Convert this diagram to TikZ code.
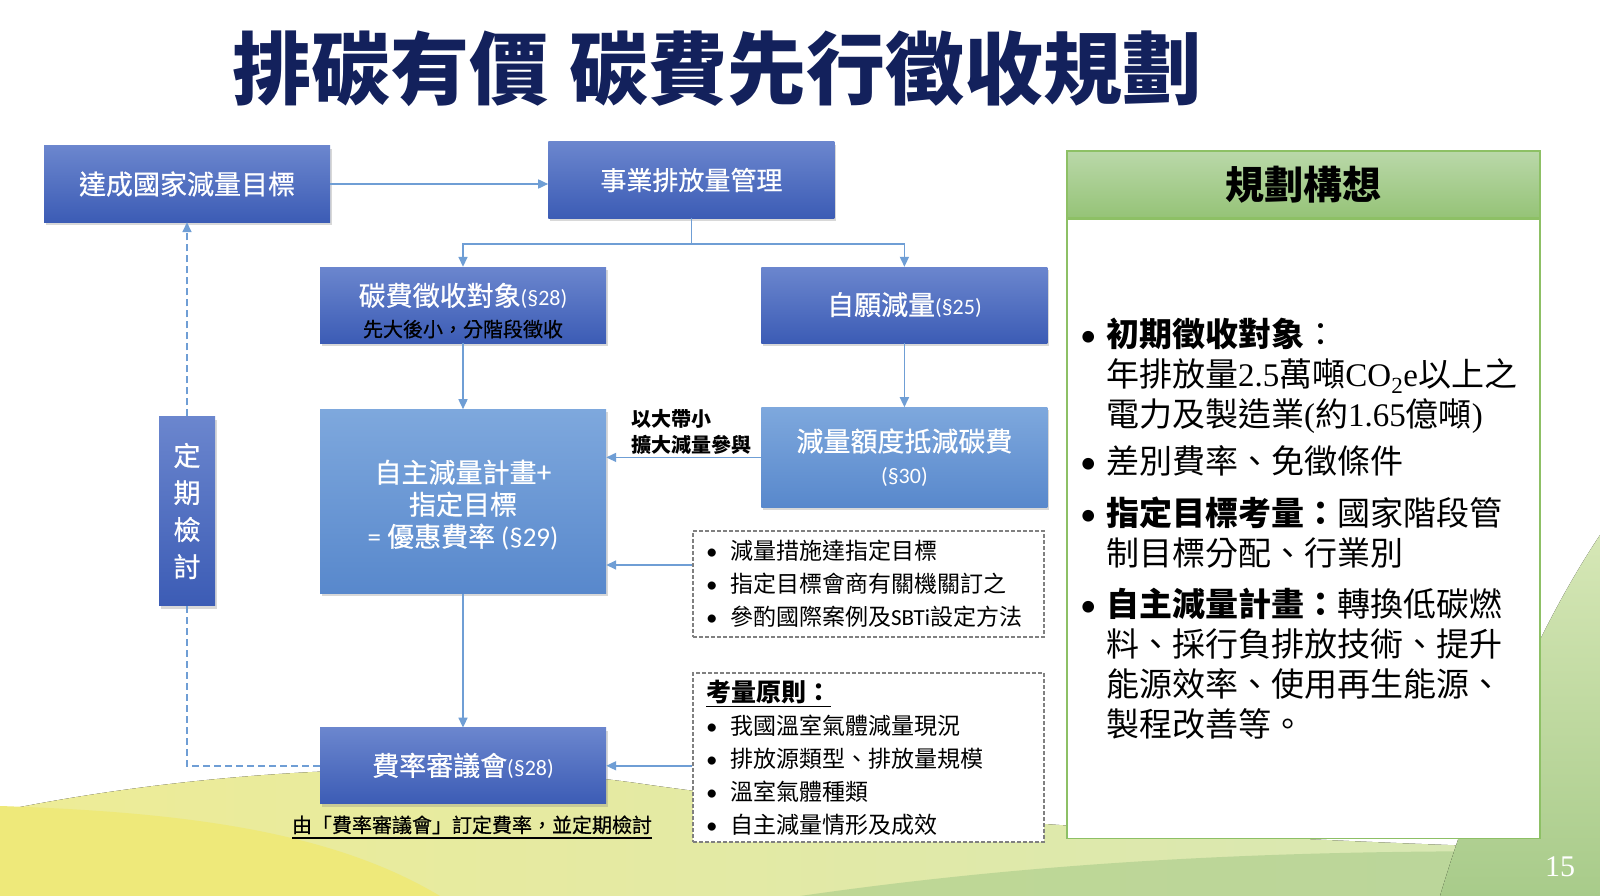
\documentclass[tikz,border=0pt]{standalone}
\usepackage{fontspec}
\setmainfont{Noto Sans CJK TC}
\newfontfamily\boxfont{Noto Sans CJK TC}[FakeBold=0.6]
\newfontfamily\timesfont{Liberation Serif}
\newfontfamily\calfont{Carlito}
\usetikzlibrary{positioning, arrows.meta, shadows}

% colours picked from the slide
\definecolor{titleblue}{HTML}{13215C}
\definecolor{boxtop}{HTML}{6B86CE}
\definecolor{boxbot}{HTML}{3C5CB5}
\definecolor{lighttop}{HTML}{7EA8DD}
\definecolor{lightbot}{HTML}{5888CC}
\definecolor{linkblue}{HTML}{6F9ED5}
\definecolor{panelgreen}{HTML}{8DC065}
\definecolor{headtop}{HTML}{BAD8A9}
\definecolor{headbot}{HTML}{95C377}
\definecolor{bgyellow}{HTML}{EEEC96}
\definecolor{bgbright}{HTML}{EEE97A}
\definecolor{bgpale}{HTML}{D6E7B6}
\definecolor{bggreen}{HTML}{A8CB8A}

\newcommand{\sz}[2]{\fontsize{#1}{#2}\selectfont}
\newcommand{\blt}[1][24pt]{\makebox[#1][l]{\calfont •}}
\newcommand{\sect}[1]{{\calfont\sz{22}{24}(§#1)}}
\newcommand{\undl}[1]{\setbox0\hbox{#1}\rlap{\rule[-6pt]{\wd0}{1.6pt}}\box0}

\begin{document}
\begin{tikzpicture}[
    x=1pt, y=1pt,
    bluebox/.style={rectangle, minimum width=286pt, minimum height=76pt, align=center,
        text=white, top color=boxtop, bottom color=boxbot, font=\boxfont\sz{27}{32},
        drop shadow={shadow xshift=2pt, shadow yshift=-3pt, opacity=0.3}},
    palebox/.style={bluebox, top color=lighttop, bottom color=lightbot},
    dashbox/.style={draw=gray, dash pattern=on 4pt off 2pt, line width=1.4pt, fill=white,
        minimum width=351pt, text width=325pt, inner xsep=13pt, align=left, font=\sz{23}{33}},
    link/.style={draw=linkblue, line width=1.6pt, -{Triangle[length=10pt, width=9pt]}},
    backline/.style={draw=linkblue, line width=1.6pt, dash pattern=on 7pt off 4pt}
]
    \useasboundingbox (0,0) rectangle (1600,-896);
    \fill[white] (0,0) rectangle (1600,-896);

    % background waves
    \fill[left color=bgyellow, right color=bgpale] (0,-811) .. controls (200,-770) and (450,-755) .. (650,-785)
        .. controls (900,-820) and (1250,-840) .. (1600,-850) -- (1600,-896) -- (0,-896) -- cycle;
    \fill[bgbright] (0,-806) .. controls (180,-812) and (330,-830) .. (440,-896) -- (0,-896) -- cycle;
    \fill[bggreen, opacity=0.6] (800,-896) .. controls (1050,-860) and (1300,-848) .. (1600,-852) -- (1600,-896) -- cycle;
    \fill[top color=bgpale, bottom color=bggreen] (1600,-535) .. controls (1530,-640) and (1475,-780) .. (1440,-896) -- (1600,-896) -- cycle;

    % Place the nodes
    \node[font=\bfseries\sz{79}{86}, text=titleblue] (title) at (717,-69) {排碳有價\hspace{22pt}碳費先行徵收規劃};

    \node[bluebox] (goal) at (187,-184) {達成國家減量目標};
    \node[bluebox, right=218pt of goal, yshift=4pt, font=\boxfont\sz{26}{32}] (mgmt) {事業排放量管理};
    \node[bluebox, font=\boxfont\sz{27}{31}] (levy) at (463,-305) {\rule{0pt}{34pt}碳費徵收對象\sect{28}\\{\color{black}\sz{20}{24}先大後小，分階段徵收}};
    \node[bluebox, right=155pt of levy] (volun) {自願減量\sect{25}};
    \node[palebox, minimum height=184pt, below=66pt of levy] (plan) {\rule{0pt}{30pt}自主減量計畫+\\指定目標\\{\calfont =} 優惠費率 {\calfont (§29)}};
    \node[palebox, minimum height=100pt, below=64pt of volun] (offset) {減量額度抵減碳費\\\sect{30}};
    \node[bluebox, below=134pt of plan] (council) {費率審議會\sect{28}};
    \node[bluebox, minimum width=56pt, minimum height=189pt, font=\boxfont\sz{27}{37}] (review) at (187,-511) {定\\期\\檢\\討};
    \node[font=\boxfont\sz{20}{24}, below=8pt of council, xshift=9pt] (rule) {\undl{由「費率審議會」訂定費率，並定期檢討}};
    \node[font=\bfseries\sz{20}{26}, align=left, anchor=south east, inner sep=0pt] (spread)
        at ([xshift=-10pt, yshift=3pt]offset.west) {以大帶小\\擴大減量參與};

    \node[dashbox, minimum height=106pt] (steps) at (868.5,-584) {\blt 減量措施達指定目標\\
        \blt 指定目標會商有關機關訂之\\
        \blt 參酌國際案例及{\calfont SBTi}設定方法};
    \node[dashbox, minimum height=169pt] (factors) at (868.5,-757.5) {\undl{\bfseries\sz{25}{33}考量原則：}\\
        \blt 我國溫室氣體減量現況\\
        \blt 排放源類型、排放量規模\\
        \blt 溫室氣體種類\\
        \blt 自主減量情形及成效};

    % right panel
    \node[draw=panelgreen, line width=1.5pt, top color=headtop, bottom color=headbot,
        minimum width=473pt, minimum height=67pt, font=\bfseries\sz{39}{44}] (head) at (1303.5,-184.5) {規劃構想};
    \node[draw=panelgreen, line width=1.5pt, fill=white, minimum width=473pt, minimum height=619pt,
        below=0pt of head] (body) {};
    \node[anchor=north west, align=left, inner sep=0pt, font=\sz{33}{40}] (ideas) at (1080,-318) {%
        \blt[26pt]\textbf{初期徵收對象}：\\
        \hspace*{26pt}年排放量{\timesfont 2.5}萬噸{\timesfont CO\textsubscript{2}e}以上之\\
        \hspace*{26pt}電力及製造業{\timesfont (}約{\timesfont 1.65}億噸{\timesfont )}\\[7pt]
        \blt[26pt]差別費率、免徵條件\\[12pt]
        \blt[26pt]\textbf{指定目標考量：}國家階段管\\
        \hspace*{26pt}制目標分配、行業別\\[11pt]
        \blt[26pt]\textbf{自主減量計畫：}轉換低碳燃\\
        \hspace*{26pt}料、採行負排放技術、提升\\
        \hspace*{26pt}能源效率、使用再生能源、\\
        \hspace*{26pt}製程改善等。};

    \node[text=white, font=\timesfont\sz{30}{30}] (pagenum) at (1560,-867) {15};

    % Draw the connectors
    \draw[link] (goal.east) -- (goal.east -| mgmt.west);
    \draw[link] (mgmt.south) -- ++(0,-26) -| (levy.north);
    \draw[link] (mgmt.south) -- ++(0,-26) -| (volun.north);
    \draw[link] (levy.south) -- (plan.north);
    \draw[link] (volun.south) -- (offset.north);
    \draw[link] (offset.west) -- (offset.west -| plan.east);
    \draw[link] ([yshift=19pt]steps.west) -- ([yshift=19pt]steps.west -| plan.east);
    \draw[link] (plan.south) -- (council.north);
    \draw[link] (factors.west |- council.east) -- (council.east);
    \draw[backline] (council.west) -| (review.south);
    \draw[backline, -{Triangle[length=10pt, width=9pt]}] (review.north) -- (goal.south);
\end{tikzpicture}
\end{document}
